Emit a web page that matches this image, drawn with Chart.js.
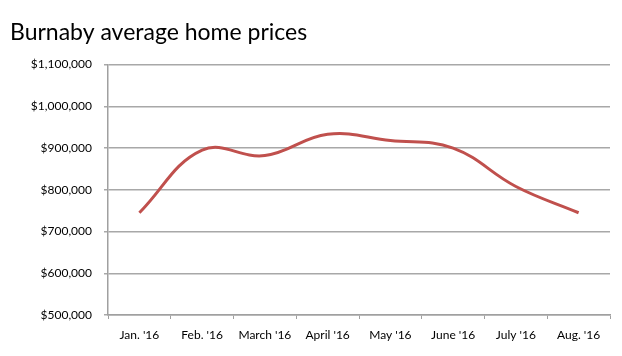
<!DOCTYPE html>
<html><head><meta charset="utf-8">
<script src="https://cdn.jsdelivr.net/npm/chart.js@4"></script>
<style>html,body{margin:0;padding:0;background:#fff}#wrap{width:622px;height:356px;position:relative}</style>
</head><body><div id="wrap"><canvas id="c" width="622" height="356"></canvas></div>
<script>
const categories = ["Jan. '16","Feb. '16","March '16","April '16","May '16","June '16","July '16","Aug. '16"];
const prices = [745000, 895000, 882000, 933000, 918000, 900000, 808000, 745000];
const yTicks = [500000, 600000, 700000, 800000, 900000, 1000000, 1100000];
const titleText = "Burnaby average home prices";

const fmt = v => '$' + v.toLocaleString('en-US');
new Chart(document.getElementById('c'), {
  type: 'line',
  data: { labels: categories, datasets: [{ data: prices, borderColor: '#c0504d', borderWidth: 3, pointRadius: 0, tension: 0.4, fill: false }] },
  options: {
    responsive: false, animation: false,
    layout: { padding: { left: 10, right: 12, top: 0, bottom: 0 } },
    plugins: {
      legend: { display: false }, tooltip: { enabled: false },
      title: { display: true, text: titleText, align: 'start', color: '#000',
        font: { family: 'Lato', size: 23, weight: 'normal' }, padding: { top: 19, bottom: 18 } }
    },
    scales: {
      x: { offset: true,
        grid: { drawOnChartArea: false, drawTicks: true, tickLength: 4, color: '#a0a0a0', offset: true },
        border: { color: '#a0a0a0', width: 1.5 },
        ticks: { color: '#000', font: { family: 'Lato', size: 12 }, padding: 9, maxRotation: 0, autoSkip: false },
        afterFit: s => { s.height = 41; } },
      y: { min: yTicks[0], max: yTicks[yTicks.length-1],
        afterBuildTicks: s => { s.ticks = yTicks.map(v => ({ value: v })); },
        grid: { color: '#a8a8a8', lineWidth: 1.5, tickLength: 4 },
        border: { color: '#a0a0a0', width: 1.5 },
        ticks: { color: '#000', font: { family: 'Lato', size: 12 }, padding: 12, callback: v => fmt(v) },
        afterFit: s => { s.width = 98; } }
    }
  }
});
</script></body></html>
